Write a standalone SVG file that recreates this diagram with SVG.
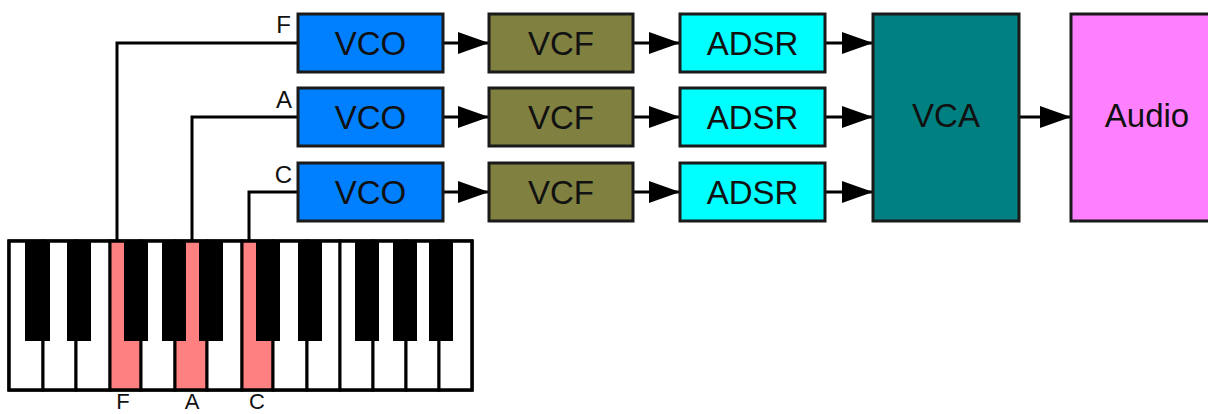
<svg xmlns="http://www.w3.org/2000/svg" width="1208" height="414" viewBox="0 0 1208 414">
<style>
.box{stroke:#1a1a1a;stroke-width:3}
.lbl{font-family:"Liberation Sans",Arial,sans-serif;font-size:33px;fill:#111;text-anchor:middle}
.note{font-family:"Liberation Sans",Arial,sans-serif;font-size:24px;fill:#111}
.bnote{font-family:"Liberation Sans",Arial,sans-serif;font-size:22px;fill:#111;text-anchor:middle}
.wire{stroke:#000;stroke-width:3;fill:none}
.wk{fill:#fff;stroke:#000;stroke-width:3}
.hk{fill:#ff8080;stroke:#000;stroke-width:3}
.bk{fill:#000}
</style>
<defs>
<marker id="ah" markerUnits="userSpaceOnUse" markerWidth="31" markerHeight="22" refX="31" refY="11" orient="auto">
<path d="M0,0 L31,11 L0,22 z" fill="#000"/>
</marker>
</defs>
<rect width="1208" height="414" fill="#fff"/>

<g id="keyboard">
<rect class="wk" x="9" y="241" width="463" height="149"/>
<rect class="wk" x="9" y="241" width="34" height="149"/>
<rect class="wk" x="43" y="241" width="33" height="149"/>
<rect class="wk" x="76" y="241" width="34" height="149"/>
<rect class="hk" x="110" y="241" width="31" height="149"/>
<rect class="wk" x="141" y="241" width="34" height="149"/>
<rect class="hk" x="175" y="241" width="32" height="149"/>
<rect class="wk" x="207" y="241" width="35" height="149"/>
<rect class="hk" x="242" y="241" width="31" height="149"/>
<rect class="wk" x="273" y="241" width="34" height="149"/>
<rect class="wk" x="307" y="241" width="33" height="149"/>
<rect class="wk" x="340" y="241" width="33" height="149"/>
<rect class="wk" x="373" y="241" width="33" height="149"/>
<rect class="wk" x="406" y="241" width="33" height="149"/>
<rect class="wk" x="439" y="241" width="33" height="149"/>
<rect class="bk" x="25" y="241" width="25" height="100"/>
<rect class="bk" x="67" y="241" width="24" height="100"/>
<rect class="bk" x="124" y="241" width="24" height="100"/>
<rect class="bk" x="162" y="241" width="24" height="100"/>
<rect class="bk" x="199" y="241" width="24" height="100"/>
<rect class="bk" x="256" y="241" width="24" height="100"/>
<rect class="bk" x="298" y="241" width="24" height="100"/>
<rect class="bk" x="355" y="241" width="24" height="100"/>
<rect class="bk" x="393" y="241" width="24" height="100"/>
<rect class="bk" x="429" y="241" width="24" height="100"/>
<rect x="9" y="241" width="463" height="149" fill="none" stroke="#000" stroke-width="3"/>
<text class="bnote" x="123" y="409">F</text>
<text class="bnote" x="192" y="409">A</text>
<text class="bnote" x="257" y="409">C</text>
</g>

<g id="connectors">
<polyline class="wire" points="117,241 117,43 298,43"/>
<polyline class="wire" points="192,241 192,117 298,117"/>
<polyline class="wire" points="249,241 249,192 298,192"/>
<line class="wire" x1="443" y1="43" x2="489" y2="43" marker-end="url(#ah)"/>
<line class="wire" x1="443" y1="117" x2="489" y2="117" marker-end="url(#ah)"/>
<line class="wire" x1="443" y1="192" x2="489" y2="192" marker-end="url(#ah)"/>
<line class="wire" x1="633" y1="43" x2="680" y2="43" marker-end="url(#ah)"/>
<line class="wire" x1="633" y1="117" x2="680" y2="117" marker-end="url(#ah)"/>
<line class="wire" x1="633" y1="192" x2="680" y2="192" marker-end="url(#ah)"/>
<line class="wire" x1="825" y1="43" x2="873" y2="43" marker-end="url(#ah)"/>
<line class="wire" x1="825" y1="117" x2="873" y2="117" marker-end="url(#ah)"/>
<line class="wire" x1="825" y1="192" x2="873" y2="192" marker-end="url(#ah)"/>
<line class="wire" x1="1019" y1="117" x2="1071" y2="117" marker-end="url(#ah)"/>
<text class="note" x="291" y="33" text-anchor="end">F</text>
<text class="note" x="292" y="108" text-anchor="end">A</text>
<text class="note" x="292" y="183" text-anchor="end">C</text>
</g>

<g id="vco1"><rect class="box" x="298" y="14" width="145" height="58" fill="#0080ff"/><text class="lbl" x="370.5" y="55">VCO</text></g>
<g id="vco2"><rect class="box" x="298" y="88" width="145" height="58" fill="#0080ff"/><text class="lbl" x="370.5" y="129">VCO</text></g>
<g id="vco3"><rect class="box" x="298" y="163" width="145" height="58" fill="#0080ff"/><text class="lbl" x="370.5" y="204">VCO</text></g>
<g id="vcf1"><rect class="box" x="489" y="14" width="144" height="58" fill="#808040"/><text class="lbl" x="561" y="55">VCF</text></g>
<g id="vcf2"><rect class="box" x="489" y="88" width="144" height="58" fill="#808040"/><text class="lbl" x="561" y="129">VCF</text></g>
<g id="vcf3"><rect class="box" x="489" y="163" width="144" height="58" fill="#808040"/><text class="lbl" x="561" y="204">VCF</text></g>
<g id="adsr1"><rect class="box" x="680" y="14" width="145" height="58" fill="#00ffff"/><text class="lbl" x="752.5" y="55">ADSR</text></g>
<g id="adsr2"><rect class="box" x="680" y="88" width="145" height="58" fill="#00ffff"/><text class="lbl" x="752.5" y="129">ADSR</text></g>
<g id="adsr3"><rect class="box" x="680" y="163" width="145" height="58" fill="#00ffff"/><text class="lbl" x="752.5" y="204">ADSR</text></g>
<g id="vca"><rect class="box" x="873" y="14" width="146" height="207" fill="#008080"/><text class="lbl" x="946" y="127">VCA</text></g>
<g id="audio"><rect class="box" x="1071" y="14" width="146" height="207" fill="#ff80ff"/><text class="lbl" x="1147" y="127">Audio</text></g>
</svg>
